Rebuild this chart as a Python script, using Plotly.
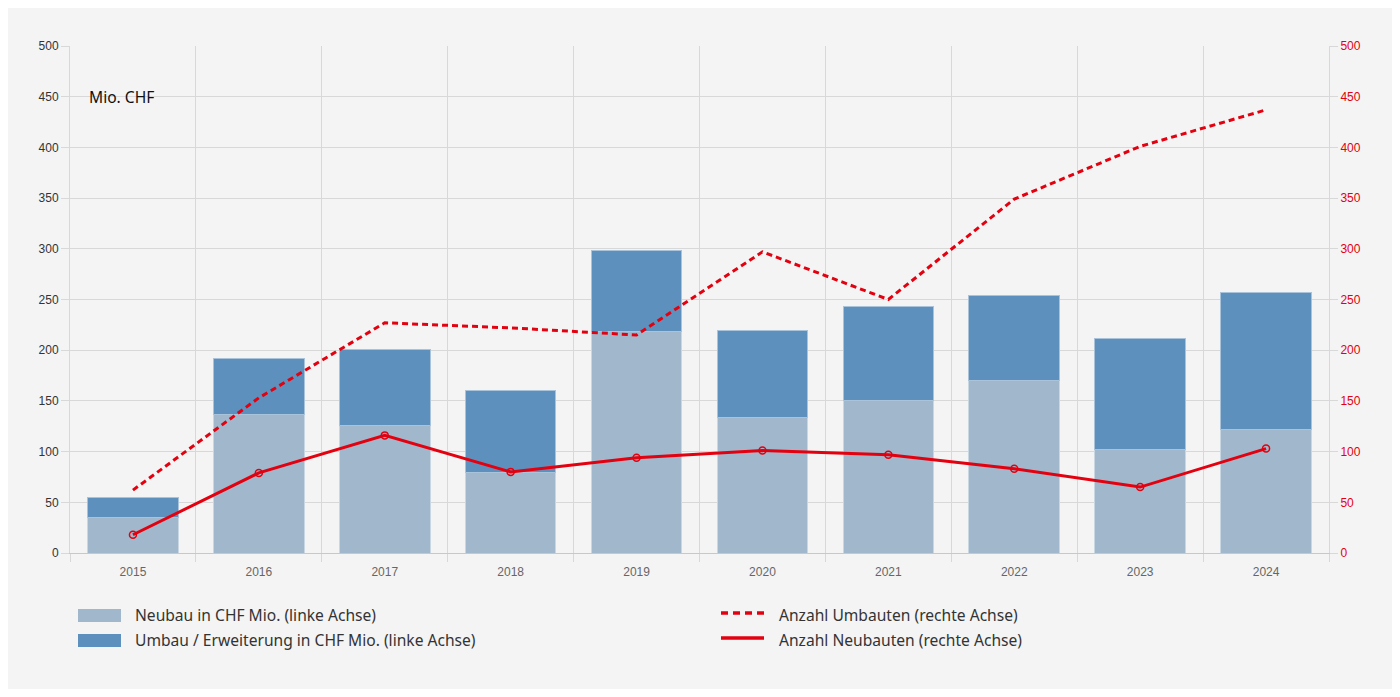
import plotly.graph_objects as go

years = ["2015", "2016", "2017", "2018", "2019", "2020", "2021", "2022", "2023", "2024"]
neubau_chf = [35, 137, 126, 79, 218, 134, 150, 170, 102, 122]
umbau_chf = [20, 55, 75, 81, 80, 85, 93, 84, 110, 135]
anzahl_umbauten = [62, 153, 227, 222, 215, 297, 250, 349, 401, 437]
anzahl_neubauten = [18, 79, 116, 80, 94, 101, 97, 83, 65, 103]

RED = "#e3000f"
GRID = "#d8d8d8"
LIGHT = "#a0b7cc"
DARK = "#5d90bd"

# figure sits inside the page body (8px margin)
W, H = 1384, 681
L, R, T, B = 62, 63, 38, 136
PW, PH = W - L - R, H - T - B


def px_x(x):
    # page pixel -> paper x
    return (x - 8 - L) / PW


def px_y(y):
    return (H - B + 8 - y) / PH


fig = go.Figure()

fig.add_trace(go.Bar(
    x=years, y=neubau_chf, name="Neubau in CHF Mio. (linke Achse)",
    marker=dict(color=LIGHT, line=dict(color="#c9d7e3", width=1)),
))
fig.add_trace(go.Bar(
    x=years, y=umbau_chf, name="Umbau / Erweiterung in CHF Mio. (linke Achse)",
    marker=dict(color=DARK, line=dict(color="#a9c3da", width=1)),
))
fig.add_trace(go.Scatter(
    x=years, y=anzahl_umbauten, name="Anzahl Umbauten (rechte Achse)",
    yaxis="y2", mode="lines",
    line=dict(color=RED, width=3, dash="6px,4px"),
))
fig.add_trace(go.Scatter(
    x=years, y=anzahl_neubauten, name="Anzahl Neubauten (rechte Achse)",
    yaxis="y2", mode="lines+markers",
    line=dict(color=RED, width=3),
    marker=dict(symbol="circle-open", size=7, color=RED, line=dict(width=1.5)),
))

legend_font = dict(family="Noto Sans, Lato, sans-serif", size=15.6, color="#333333")

# hand-drawn legend: two columns like the original
shapes = []
annotations = []
rows = [615, 640]
for i, (name, col) in enumerate([(fig.data[0].name, LIGHT), (fig.data[1].name, DARK)]):
    yc = rows[i]
    shapes.append(dict(type="rect", xref="paper", yref="paper",
                       x0=px_x(78), x1=px_x(121), y0=px_y(yc + 7), y1=px_y(yc - 6),
                       fillcolor=col, line=dict(width=0)))
    annotations.append(dict(x=px_x(133), y=px_y(yc), xref="paper", yref="paper",
                            xanchor="left", yanchor="middle", text=name, showarrow=False,
                            font=legend_font))
for i, (name, dash) in enumerate([(fig.data[2].name, "7px,5px"), (fig.data[3].name, "solid")]):
    yc = rows[i]
    shapes.append(dict(type="line", xref="paper", yref="paper",
                       x0=px_x(721), x1=px_x(764), y0=px_y(yc - 2), y1=px_y(yc - 2),
                       line=dict(color=RED, width=3.5, dash=dash)))
    annotations.append(dict(x=px_x(777), y=px_y(yc), xref="paper", yref="paper",
                            xanchor="left", yanchor="middle", text=name, showarrow=False,
                            font=legend_font))

annotations.append(dict(
    x=px_x(87), y=450, xref="paper", yref="y", xanchor="left", yanchor="middle",
    text="Mio. CHF", showarrow=False,
    font=dict(family="Noto Sans, Lato, sans-serif", size=15.6, color="#111111"),
))

fig.update_layout(
    width=W, height=H,
    barmode="stack", bargap=0.28,
    showlegend=False,
    paper_bgcolor="#f4f4f4", plot_bgcolor="#f4f4f4",
    margin=dict(l=L, r=R, t=T, b=B),
    font=dict(family="Liberation Sans, Arial, sans-serif", size=12, color="#333333"),
    xaxis=dict(
        type="category", range=[-0.5, len(years) - 0.5],
        tickson="boundaries", ticks="outside", ticklen=8,
        tickcolor=GRID, showgrid=True, gridcolor=GRID, gridwidth=1,
        showline=True, linecolor="#c8c8c8", linewidth=1,
        tickfont=dict(color="#666666", size=12), ticklabelstandoff=8,
    ),
    yaxis=dict(
        range=[0, 500], dtick=50, showgrid=True, gridcolor=GRID, gridwidth=1,
        ticks="outside", ticklen=8, tickcolor=GRID, zeroline=False,
        showline=True, linecolor=GRID, tickfont=dict(color="#333333", size=12),
    ),
    yaxis2=dict(
        range=[0, 500], dtick=50, overlaying="y", side="right", showgrid=False,
        ticks="outside", ticklen=8, tickcolor=GRID, zeroline=False,
        showline=True, linecolor=GRID, tickfont=dict(color=RED, size=12),
    ),
    shapes=shapes,
    annotations=annotations,
)

fig.write_html("out.html")
